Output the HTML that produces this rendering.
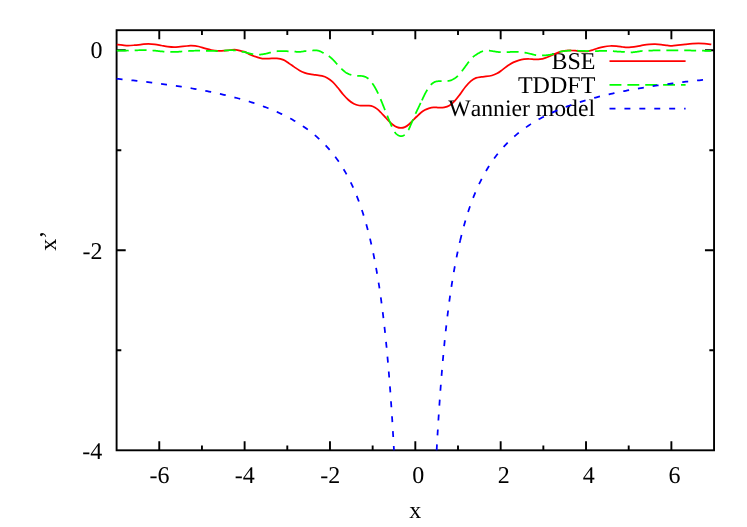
<!DOCTYPE html>
<html><head><meta charset="utf-8">
<style>
html,body{margin:0;padding:0;background:#fff;}
body{width:747px;height:527px;overflow:hidden;}
svg{display:block;will-change:transform;}
text{font-family:"Liberation Serif",serif;font-size:24px;fill:#000;text-rendering:geometricPrecision;}
</style></head><body>
<svg width="747" height="527" viewBox="0 0 747 527">
<rect width="747" height="527" fill="#fff"/>
<!-- frame + ticks -->
<g fill="none" stroke="#000" stroke-width="1.9">
<rect x="116.6" y="30.2" width="597.45" height="420.10"/>
<path d="M159.27 450.30 v-9.1 M159.27 30.20 v9.1"/>
<path d="M201.95 450.30 v-4.7 M201.95 30.20 v4.7"/>
<path d="M244.62 450.30 v-9.1 M244.62 30.20 v9.1"/>
<path d="M287.30 450.30 v-4.7 M287.30 30.20 v4.7"/>
<path d="M329.98 450.30 v-9.1 M329.98 30.20 v9.1"/>
<path d="M372.65 450.30 v-4.7 M372.65 30.20 v4.7"/>
<path d="M415.32 450.30 v-9.1 M415.32 30.20 v9.1"/>
<path d="M458.00 450.30 v-4.7 M458.00 30.20 v4.7"/>
<path d="M500.67 450.30 v-9.1 M500.67 30.20 v9.1"/>
<path d="M543.35 450.30 v-4.7 M543.35 30.20 v4.7"/>
<path d="M586.02 450.30 v-9.1 M586.02 30.20 v9.1"/>
<path d="M628.70 450.30 v-4.7 M628.70 30.20 v4.7"/>
<path d="M671.38 450.30 v-9.1 M671.38 30.20 v9.1"/>
<path d="M116.60 50.20 h9.1 M714.05 50.20 h-9.1"/>
<path d="M116.60 150.23 h4.7 M714.05 150.23 h-4.7"/>
<path d="M116.60 250.25 h9.1 M714.05 250.25 h-9.1"/>
<path d="M116.60 350.28 h4.7 M714.05 350.28 h-4.7"/>
</g>
<!-- y tick labels -->
<g text-anchor="end">
<text x="102.5" y="58.2">0</text>
<text x="102.6" y="259.0">-2</text>
<text x="102.3" y="458.6">-4</text>
</g>
<!-- x tick labels -->
<g text-anchor="middle">
<text x="159.4" y="482.5">-6</text>
<text x="244.8" y="482.5">-4</text>
<text x="330.3" y="482.5">-2</text>
<text x="418.3" y="482.5">0</text>
<text x="503.7" y="482.5">2</text>
<text x="588.8" y="482.5">4</text>
<text x="674.4" y="482.5">6</text>
<text x="415.3" y="517.6">x</text>
</g>
<text transform="translate(56 250.7) rotate(-90)" x="0" y="0">x&#8217;</text>
<!-- BSE -->
<text x="595.5" y="68.9" text-anchor="end">BSE</text>
<g fill="none" stroke="#ff0000" stroke-width="1.75" stroke-linejoin="round">
<path d="M609.5 61.0 H685.6"/>
<path d="M116.80 44.60 C117.78 44.70 120.82 45.03 122.70 45.20 C124.58 45.37 126.13 45.60 128.10 45.60 C130.07 45.60 132.18 45.40 134.50 45.20 C136.82 45.00 139.68 44.62 142.00 44.40 C144.32 44.18 146.27 43.90 148.40 43.90 C150.53 43.90 152.65 44.13 154.80 44.40 C156.95 44.67 159.15 45.13 161.30 45.50 C163.45 45.87 165.57 46.33 167.70 46.60 C169.83 46.87 171.97 47.10 174.10 47.10 C176.23 47.10 178.35 46.78 180.50 46.60 C182.65 46.42 185.23 46.15 187.00 46.00 C188.77 45.85 189.17 45.62 191.10 45.70 C193.03 45.78 196.28 46.05 198.60 46.50 C200.92 46.95 202.87 47.82 205.00 48.40 C207.13 48.98 209.27 49.59 211.40 50.00 C213.53 50.41 215.65 50.73 217.80 50.85 C219.95 50.97 222.15 50.84 224.30 50.70 C226.45 50.56 228.75 50.15 230.70 50.00 C232.65 49.85 234.22 49.62 236.00 49.80 C237.78 49.98 239.90 50.75 241.40 51.10 C242.90 51.45 243.52 51.32 245.00 51.90 C246.48 52.48 248.30 53.72 250.30 54.60 C252.30 55.48 255.00 56.53 257.00 57.20 C259.00 57.87 260.32 58.37 262.30 58.60 C264.28 58.83 266.47 58.65 268.90 58.60 C271.33 58.55 274.47 58.08 276.90 58.30 C279.33 58.52 281.52 59.08 283.50 59.90 C285.48 60.72 287.03 62.03 288.80 63.20 C290.57 64.37 292.32 65.68 294.10 66.90 C295.88 68.12 297.72 69.52 299.50 70.50 C301.28 71.48 303.03 72.18 304.80 72.80 C306.57 73.42 308.35 73.85 310.10 74.20 C311.85 74.55 313.32 74.62 315.30 74.90 C317.28 75.18 320.00 75.40 322.00 75.90 C324.00 76.40 325.53 76.92 327.30 77.90 C329.07 78.88 330.83 80.15 332.60 81.80 C334.37 83.45 336.13 85.68 337.90 87.80 C339.67 89.92 341.43 92.47 343.20 94.50 C344.97 96.53 346.73 98.45 348.50 100.00 C350.27 101.55 352.03 102.88 353.80 103.80 C355.57 104.72 357.32 105.18 359.10 105.50 C360.88 105.82 362.85 105.68 364.50 105.70 C366.15 105.72 367.58 105.47 369.00 105.60 C370.42 105.73 371.67 105.95 373.00 106.50 C374.33 107.05 375.68 107.90 377.00 108.90 C378.32 109.90 379.58 111.18 380.90 112.50 C382.22 113.82 383.57 115.37 384.90 116.80 C386.23 118.23 387.57 119.78 388.90 121.10 C390.23 122.42 391.57 123.70 392.90 124.70 C394.23 125.70 395.57 126.57 396.90 127.10 C398.23 127.63 399.58 127.90 400.90 127.90 C402.22 127.90 403.48 127.67 404.80 127.10 C406.12 126.53 407.47 125.60 408.80 124.50 C410.13 123.40 411.47 121.83 412.80 120.50 C414.13 119.17 415.47 117.78 416.80 116.50 C418.13 115.22 419.47 113.87 420.80 112.80 C422.13 111.73 423.47 110.85 424.80 110.10 C426.13 109.35 427.33 108.77 428.80 108.30 C430.27 107.83 431.92 107.40 433.60 107.30 C435.28 107.20 437.13 107.68 438.90 107.70 C440.67 107.72 442.43 107.78 444.20 107.40 C445.97 107.02 447.73 106.50 449.50 105.40 C451.27 104.30 453.02 102.68 454.80 100.80 C456.58 98.92 458.42 96.43 460.20 94.10 C461.98 91.77 463.73 88.97 465.50 86.80 C467.27 84.63 469.03 82.58 470.80 81.10 C472.57 79.62 474.33 78.60 476.10 77.90 C477.87 77.20 480.02 77.12 481.40 76.90 C482.78 76.68 482.65 76.83 484.40 76.60 C486.15 76.37 489.75 76.05 491.90 75.50 C494.05 74.95 495.52 74.28 497.30 73.30 C499.08 72.32 500.82 70.88 502.60 69.60 C504.38 68.32 506.22 66.80 508.00 65.60 C509.78 64.40 511.52 63.28 513.30 62.40 C515.08 61.52 516.90 60.83 518.70 60.30 C520.50 59.77 522.32 59.42 524.10 59.20 C525.88 58.98 527.62 58.97 529.40 59.00 C531.18 59.03 533.02 59.37 534.80 59.40 C536.58 59.43 538.32 59.47 540.10 59.20 C541.88 58.93 543.72 58.38 545.50 57.80 C547.28 57.22 549.15 56.38 550.80 55.70 C552.45 55.02 553.75 54.38 555.40 53.70 C557.05 53.02 558.92 52.10 560.70 51.60 C562.48 51.10 564.32 50.88 566.10 50.70 C567.88 50.52 569.62 50.48 571.40 50.50 C573.18 50.52 575.02 50.72 576.80 50.85 C578.58 50.98 580.32 51.22 582.10 51.30 C583.88 51.38 585.72 51.52 587.50 51.30 C589.28 51.08 591.02 50.53 592.80 50.00 C594.58 49.47 596.42 48.63 598.20 48.10 C599.98 47.57 601.53 47.15 603.50 46.80 C605.47 46.45 607.85 46.10 610.00 46.00 C612.15 45.90 614.27 46.03 616.40 46.20 C618.53 46.37 621.03 46.80 622.80 47.00 C624.57 47.20 625.63 47.37 627.00 47.40 C628.37 47.43 629.33 47.37 631.00 47.20 C632.67 47.03 634.98 46.73 637.00 46.40 C639.02 46.07 641.08 45.53 643.10 45.20 C645.12 44.87 647.10 44.57 649.10 44.40 C651.10 44.23 653.10 44.17 655.10 44.20 C657.10 44.23 659.08 44.40 661.10 44.60 C663.12 44.80 665.38 45.20 667.20 45.40 C669.02 45.60 670.20 45.83 672.00 45.80 C673.80 45.77 675.80 45.43 678.00 45.20 C680.20 44.97 682.78 44.65 685.20 44.40 C687.62 44.15 690.28 43.87 692.50 43.70 C694.72 43.53 696.50 43.40 698.50 43.40 C700.50 43.40 702.37 43.53 704.50 43.70 C706.63 43.87 710.17 44.28 711.30 44.40"/>
</g>
<!-- TDDFT -->
<text x="595.3" y="92.9" text-anchor="end">TDDFT</text>
<g fill="none" stroke="#00ff00" stroke-width="1.75" stroke-dasharray="11.912 5.956" stroke-linejoin="round">
<path d="M609.5 84.8 H685.6"/>
<path d="M116.80 50.50 L117.39 50.50 L118.15 50.50 L119.06 50.50 L120.08 50.50 L121.18 50.51 L122.33 50.51 L123.50 50.51 L124.67 50.51 L125.79 50.51 L126.84 50.51 L127.79 50.50 L128.60 50.50 L129.29 50.50 L129.88 50.49 L130.40 50.49 L130.87 50.48 L131.29 50.48 L131.69 50.47 L132.08 50.46 L132.48 50.45 L132.90 50.44 L133.37 50.43 L133.90 50.42 L134.50 50.40 L135.17 50.38 L135.90 50.35 L136.67 50.32 L137.47 50.29 L138.30 50.25 L139.14 50.22 L140.00 50.19 L140.85 50.16 L141.70 50.13 L142.53 50.11 L143.33 50.10 L144.10 50.10 L144.83 50.11 L145.53 50.12 L146.21 50.13 L146.88 50.16 L147.53 50.18 L148.19 50.21 L148.85 50.25 L149.52 50.29 L150.22 50.33 L150.94 50.38 L151.70 50.44 L152.50 50.50 L153.36 50.57 L154.28 50.65 L155.25 50.74 L156.26 50.84 L157.29 50.95 L158.32 51.06 L159.35 51.16 L160.35 51.27 L161.32 51.36 L162.25 51.45 L163.11 51.53 L163.90 51.60 L164.62 51.65 L165.27 51.70 L165.88 51.74 L166.45 51.77 L166.99 51.80 L167.49 51.82 L167.98 51.84 L168.46 51.85 L168.93 51.86 L169.41 51.88 L169.89 51.89 L170.40 51.90 L170.91 51.91 L171.43 51.92 L171.93 51.93 L172.43 51.94 L172.93 51.94 L173.42 51.94 L173.91 51.94 L174.40 51.94 L174.88 51.94 L175.36 51.93 L175.83 51.91 L176.30 51.90 L176.76 51.88 L177.20 51.86 L177.63 51.83 L178.06 51.80 L178.47 51.77 L178.89 51.73 L179.32 51.69 L179.74 51.66 L180.18 51.62 L180.64 51.58 L181.11 51.54 L181.60 51.50 L182.10 51.46 L182.59 51.42 L183.08 51.38 L183.57 51.34 L184.07 51.29 L184.59 51.25 L185.14 51.21 L185.71 51.16 L186.31 51.12 L186.96 51.08 L187.65 51.04 L188.40 51.00 L189.23 50.96 L190.15 50.92 L191.14 50.88 L192.18 50.84 L193.26 50.79 L194.36 50.75 L195.45 50.72 L196.52 50.68 L197.55 50.65 L198.52 50.63 L199.41 50.61 L200.20 50.60 L200.88 50.60 L201.46 50.61 L201.95 50.62 L202.39 50.64 L202.78 50.66 L203.16 50.69 L203.53 50.72 L203.92 50.75 L204.36 50.78 L204.85 50.81 L205.42 50.83 L206.10 50.85 L206.89 50.87 L207.78 50.89 L208.75 50.91 L209.79 50.93 L210.86 50.95 L211.95 50.97 L213.04 50.98 L214.11 50.99 L215.15 51.00 L216.12 51.01 L217.01 51.01 L217.80 51.00 L218.49 50.99 L219.11 50.97 L219.66 50.94 L220.16 50.91 L220.61 50.87 L221.04 50.83 L221.46 50.79 L221.87 50.75 L222.28 50.71 L222.72 50.67 L223.19 50.64 L223.70 50.60 L224.25 50.56 L224.83 50.53 L225.42 50.48 L226.03 50.44 L226.65 50.40 L227.27 50.36 L227.88 50.32 L228.49 50.28 L229.08 50.25 L229.65 50.23 L230.19 50.21 L230.70 50.20 L231.17 50.20 L231.61 50.20 L232.03 50.21 L232.42 50.22 L232.80 50.23 L233.17 50.26 L233.53 50.28 L233.90 50.31 L234.27 50.35 L234.66 50.40 L235.07 50.44 L235.50 50.50 L235.96 50.57 L236.45 50.64 L236.95 50.73 L237.47 50.83 L238.00 50.93 L238.53 51.03 L239.05 51.14 L239.56 51.24 L240.06 51.34 L240.54 51.44 L240.99 51.52 L241.40 51.60 L241.77 51.66 L242.10 51.72 L242.39 51.76 L242.66 51.80 L242.91 51.83 L243.16 51.86 L243.40 51.90 L243.66 51.94 L243.94 51.98 L244.25 52.04 L244.60 52.11 L245.00 52.20 L245.44 52.31 L245.92 52.43 L246.42 52.57 L246.95 52.72 L247.50 52.88 L248.07 53.04 L248.65 53.21 L249.24 53.37 L249.83 53.52 L250.42 53.66 L251.02 53.79 L251.60 53.90 L252.19 54.00 L252.79 54.09 L253.41 54.18 L254.03 54.26 L254.66 54.33 L255.29 54.40 L255.92 54.46 L256.54 54.51 L257.15 54.55 L257.75 54.58 L258.33 54.59 L258.90 54.60 L259.45 54.59 L259.98 54.57 L260.51 54.54 L261.02 54.49 L261.53 54.44 L262.02 54.38 L262.52 54.31 L263.00 54.23 L263.48 54.15 L263.96 54.07 L264.43 53.98 L264.90 53.90 L265.36 53.81 L265.81 53.72 L266.24 53.62 L266.67 53.51 L267.09 53.40 L267.51 53.29 L267.93 53.17 L268.36 53.06 L268.79 52.94 L269.24 52.82 L269.71 52.71 L270.20 52.60 L270.71 52.49 L271.25 52.37 L271.81 52.25 L272.38 52.13 L272.96 52.01 L273.55 51.89 L274.14 51.77 L274.72 51.66 L275.29 51.55 L275.85 51.46 L276.39 51.37 L276.90 51.30 L277.39 51.24 L277.86 51.19 L278.31 51.14 L278.74 51.10 L279.17 51.07 L279.59 51.05 L280.01 51.03 L280.43 51.02 L280.86 51.01 L281.29 51.00 L281.74 51.00 L282.20 51.00 L282.68 51.00 L283.16 51.02 L283.65 51.03 L284.15 51.06 L284.66 51.08 L285.16 51.11 L285.67 51.14 L286.18 51.18 L286.69 51.21 L287.20 51.24 L287.70 51.27 L288.20 51.30 L288.70 51.32 L289.19 51.35 L289.69 51.37 L290.19 51.40 L290.69 51.42 L291.19 51.45 L291.68 51.48 L292.17 51.50 L292.66 51.53 L293.15 51.55 L293.63 51.58 L294.10 51.60 L294.56 51.63 L295.02 51.66 L295.46 51.70 L295.89 51.74 L296.32 51.79 L296.76 51.83 L297.19 51.86 L297.63 51.89 L298.08 51.91 L298.54 51.92 L299.01 51.92 L299.50 51.90 L300.01 51.87 L300.53 51.81 L301.07 51.75 L301.61 51.67 L302.16 51.59 L302.72 51.50 L303.29 51.41 L303.86 51.31 L304.42 51.23 L304.99 51.14 L305.55 51.06 L306.10 51.00 L306.65 50.94 L307.22 50.89 L307.78 50.83 L308.35 50.78 L308.92 50.73 L309.48 50.69 L310.04 50.65 L310.60 50.61 L311.14 50.57 L311.68 50.54 L312.20 50.52 L312.70 50.50 L313.19 50.48 L313.66 50.46 L314.12 50.43 L314.56 50.41 L315.00 50.39 L315.43 50.38 L315.86 50.37 L316.28 50.38 L316.71 50.41 L317.13 50.45 L317.56 50.51 L318.00 50.60 L318.44 50.71 L318.88 50.85 L319.32 51.00 L319.77 51.18 L320.21 51.37 L320.65 51.57 L321.09 51.78 L321.53 52.00 L321.98 52.22 L322.42 52.45 L322.86 52.68 L323.30 52.90 L323.74 53.12 L324.19 53.35 L324.64 53.58 L325.09 53.81 L325.54 54.05 L325.99 54.29 L326.44 54.54 L326.89 54.80 L327.32 55.06 L327.76 55.33 L328.18 55.61 L328.60 55.90 L329.01 56.20 L329.41 56.50 L329.81 56.82 L330.21 57.14 L330.60 57.48 L330.98 57.81 L331.36 58.15 L331.74 58.50 L332.11 58.85 L332.48 59.20 L332.84 59.55 L333.20 59.90 L333.55 60.25 L333.89 60.60 L334.23 60.96 L334.55 61.32 L334.87 61.68 L335.19 62.04 L335.51 62.41 L335.84 62.78 L336.16 63.16 L336.50 63.53 L336.84 63.91 L337.20 64.30 L337.57 64.69 L337.94 65.10 L338.33 65.52 L338.72 65.94 L339.11 66.37 L339.51 66.79 L339.91 67.22 L340.31 67.64 L340.72 68.05 L341.11 68.45 L341.51 68.83 L341.90 69.20 L342.29 69.56 L342.67 69.91 L343.05 70.25 L343.44 70.59 L343.82 70.91 L344.20 71.23 L344.58 71.54 L344.96 71.84 L345.35 72.12 L345.73 72.40 L346.11 72.66 L346.50 72.90 L346.88 73.13 L347.26 73.34 L347.64 73.54 L348.01 73.73 L348.39 73.90 L348.76 74.07 L349.14 74.22 L349.53 74.37 L349.93 74.51 L350.34 74.64 L350.76 74.77 L351.20 74.90 L351.65 75.02 L352.13 75.13 L352.61 75.24 L353.11 75.33 L353.61 75.42 L354.12 75.51 L354.64 75.58 L355.16 75.66 L355.68 75.72 L356.19 75.79 L356.70 75.84 L357.20 75.90 L357.70 75.94 L358.20 75.97 L358.70 75.98 L359.21 75.98 L359.71 75.97 L360.21 75.97 L360.71 75.97 L361.20 75.98 L361.69 76.00 L362.17 76.04 L362.64 76.11 L363.10 76.20 L363.55 76.31 L363.99 76.44 L364.43 76.58 L364.86 76.73 L365.29 76.89 L365.71 77.07 L366.12 77.26 L366.53 77.47 L366.93 77.70 L367.32 77.95 L367.71 78.21 L368.10 78.50 L368.48 78.81 L368.86 79.15 L369.23 79.51 L369.59 79.90 L369.95 80.30 L370.31 80.71 L370.65 81.14 L371.00 81.57 L371.33 82.01 L371.66 82.44 L371.98 82.87 L372.30 83.30 L372.61 83.72 L372.91 84.15 L373.20 84.59 L373.49 85.03 L373.77 85.47 L374.04 85.92 L374.31 86.37 L374.58 86.81 L374.84 87.26 L375.10 87.71 L375.35 88.16 L375.60 88.60 L375.85 89.04 L376.09 89.48 L376.32 89.91 L376.55 90.34 L376.77 90.77 L376.99 91.21 L377.21 91.64 L377.43 92.08 L377.65 92.53 L377.86 92.98 L378.08 93.43 L378.30 93.90 L378.52 94.36 L378.72 94.81 L378.92 95.26 L379.12 95.70 L379.32 96.15 L379.52 96.61 L379.72 97.09 L379.93 97.59 L380.15 98.11 L380.39 98.67 L380.63 99.26 L380.90 99.90 L381.19 100.60 L381.50 101.36 L381.83 102.18 L382.18 103.03 L382.53 103.91 L382.89 104.81 L383.25 105.70 L383.61 106.59 L383.96 107.46 L384.29 108.29 L384.61 109.07 L384.90 109.80 L385.17 110.47 L385.42 111.09 L385.65 111.67 L385.87 112.22 L386.09 112.75 L386.29 113.27 L386.50 113.78 L386.70 114.29 L386.91 114.81 L387.13 115.35 L387.36 115.91 L387.60 116.50 L387.86 117.13 L388.12 117.78 L388.40 118.46 L388.68 119.15 L388.96 119.85 L389.25 120.55 L389.54 121.25 L389.82 121.94 L390.10 122.62 L390.38 123.27 L390.64 123.90 L390.90 124.50 L391.14 125.07 L391.38 125.63 L391.60 126.17 L391.82 126.69 L392.04 127.20 L392.25 127.70 L392.46 128.18 L392.68 128.65 L392.90 129.11 L393.12 129.55 L393.36 129.98 L393.60 130.40 L393.85 130.81 L394.11 131.20 L394.37 131.59 L394.64 131.96 L394.91 132.32 L395.19 132.66 L395.47 132.99 L395.75 133.31 L396.03 133.61 L396.32 133.89 L396.61 134.15 L396.90 134.40 L397.19 134.63 L397.49 134.85 L397.80 135.05 L398.11 135.24 L398.42 135.41 L398.73 135.56 L399.05 135.70 L399.36 135.82 L399.67 135.92 L399.98 136.00 L400.29 136.06 L400.60 136.10 L400.90 136.12 L401.20 136.13 L401.50 136.13 L401.79 136.10 L402.09 136.06 L402.38 136.00 L402.68 135.92 L402.97 135.81 L403.27 135.67 L403.58 135.51 L403.89 135.32 L404.20 135.10 L404.52 134.85 L404.85 134.56 L405.19 134.25 L405.53 133.90 L405.87 133.54 L406.22 133.14 L406.56 132.73 L406.90 132.30 L407.24 131.84 L407.57 131.38 L407.89 130.89 L408.20 130.40 L408.50 129.89 L408.78 129.36 L409.06 128.80 L409.33 128.23 L409.59 127.64 L409.85 127.04 L410.11 126.42 L410.37 125.78 L410.64 125.13 L410.92 124.46 L411.20 123.79 L411.50 123.10 L411.81 122.39 L412.13 121.64 L412.47 120.86 L412.81 120.06 L413.15 119.25 L413.50 118.42 L413.85 117.61 L414.19 116.80 L414.53 116.00 L414.87 115.23 L415.19 114.50 L415.50 113.80 L415.80 113.14 L416.09 112.51 L416.37 111.91 L416.65 111.33 L416.92 110.76 L417.19 110.21 L417.46 109.66 L417.73 109.12 L417.99 108.58 L418.26 108.03 L418.53 107.47 L418.80 106.90 L419.07 106.32 L419.34 105.75 L419.61 105.18 L419.87 104.61 L420.14 104.05 L420.41 103.47 L420.68 102.90 L420.95 102.32 L421.23 101.73 L421.51 101.13 L421.80 100.52 L421.90 100.32"/>
<path d="M421.90 100.32 L422.10 99.90 L422.41 99.26 L422.72 98.60 L423.04 97.92 L423.37 97.23 L423.70 96.53 L424.03 95.83 L424.37 95.12 L424.71 94.43 L425.06 93.75 L425.40 93.08 L425.75 92.43 L426.10 91.80 L426.45 91.19 L426.81 90.58 L427.17 89.97 L427.54 89.37 L427.90 88.78 L428.27 88.20 L428.65 87.64 L429.02 87.10 L429.39 86.58 L429.76 86.09 L430.13 85.63 L430.50 85.20 L430.86 84.80 L431.22 84.43 L431.58 84.08 L431.93 83.76 L432.29 83.46 L432.64 83.19 L433.00 82.93 L433.37 82.69 L433.74 82.47 L434.11 82.27 L434.50 82.08 L434.90 81.90 L435.31 81.74 L435.72 81.61 L436.13 81.51 L436.55 81.42 L436.97 81.35 L437.41 81.29 L437.85 81.25 L438.30 81.21 L438.76 81.19 L439.23 81.16 L439.71 81.13 L440.20 81.10 L440.71 81.08 L441.25 81.07 L441.81 81.07 L442.38 81.09 L442.96 81.11 L443.55 81.13 L444.14 81.15 L444.72 81.17 L445.29 81.17 L445.85 81.17 L446.39 81.14 L446.90 81.10 L447.39 81.04 L447.86 80.99 L448.32 80.92 L448.77 80.85 L449.21 80.77 L449.64 80.67 L450.06 80.57 L450.49 80.45 L450.91 80.32 L451.33 80.16 L451.76 79.99 L452.20 79.80 L452.65 79.58 L453.10 79.34 L453.56 79.09 L454.01 78.81 L454.47 78.51 L454.93 78.21 L455.38 77.89 L455.83 77.56 L456.27 77.22 L456.69 76.88 L457.10 76.54 L457.50 76.20 L457.88 75.85 L458.24 75.50 L458.59 75.14 L458.93 74.77 L459.26 74.39 L459.58 74.01 L459.90 73.62 L460.21 73.22 L460.53 72.82 L460.85 72.42 L461.17 72.01 L461.50 71.60 L461.83 71.18 L462.17 70.76 L462.50 70.33 L462.83 69.89 L463.17 69.45 L463.50 69.00 L463.83 68.55 L464.17 68.10 L464.50 67.65 L464.83 67.20 L465.17 66.75 L465.50 66.30 L465.83 65.85 L466.17 65.39 L466.50 64.93 L466.84 64.46 L467.17 64.00 L467.51 63.53 L467.84 63.07 L468.17 62.61 L468.51 62.17 L468.84 61.73 L469.17 61.31 L469.50 60.90 L469.83 60.50 L470.15 60.12 L470.48 59.74 L470.80 59.36 L471.12 59.00 L471.44 58.64 L471.76 58.30 L472.08 57.96 L472.41 57.63 L472.73 57.31 L473.06 57.00 L473.40 56.70 L473.74 56.41 L474.08 56.14 L474.42 55.87 L474.76 55.62 L475.10 55.37 L475.45 55.14 L475.80 54.91 L476.15 54.68 L476.51 54.46 L476.87 54.24 L477.23 54.02 L477.60 53.80 L477.97 53.58 L478.34 53.35 L478.71 53.13 L479.09 52.90 L479.46 52.68 L479.84 52.47 L480.23 52.26 L480.63 52.06 L481.03 51.88 L481.44 51.70 L481.86 51.54 L482.30 51.40 L482.75 51.27 L483.21 51.16 L483.69 51.05 L484.18 50.96 L484.67 50.87 L485.17 50.80 L485.68 50.74 L486.19 50.69 L486.70 50.65 L487.20 50.62 L487.70 50.61 L488.20 50.60 L488.69 50.61 L489.18 50.64 L489.67 50.69 L490.17 50.75 L490.66 50.82 L491.15 50.90 L491.64 50.99 L492.13 51.07 L492.62 51.16 L493.12 51.25 L493.61 51.33 L494.10 51.40 L494.59 51.47 L495.08 51.54 L495.57 51.62 L496.06 51.70 L496.55 51.77 L497.04 51.85 L497.53 51.92 L498.02 51.99 L498.51 52.06 L499.01 52.11 L499.50 52.16 L500.00 52.20 L500.50 52.23 L501.00 52.25 L501.51 52.26 L502.01 52.27 L502.52 52.27 L503.03 52.27 L503.54 52.26 L504.05 52.25 L504.56 52.24 L505.08 52.23 L505.59 52.21 L506.10 52.20 L506.62 52.18 L507.14 52.16 L507.66 52.14 L508.19 52.11 L508.72 52.08 L509.25 52.05 L509.78 52.02 L510.30 51.99 L510.81 51.96 L511.32 51.94 L511.81 51.92 L512.30 51.90 L512.77 51.89 L513.22 51.88 L513.66 51.86 L514.09 51.86 L514.51 51.85 L514.93 51.84 L515.35 51.84 L515.78 51.84 L516.21 51.85 L516.66 51.86 L517.12 51.88 L517.60 51.90 L518.10 51.93 L518.62 51.96 L519.14 51.99 L519.68 52.03 L520.23 52.07 L520.78 52.12 L521.34 52.17 L521.90 52.22 L522.45 52.28 L523.01 52.35 L523.56 52.42 L524.10 52.50 L524.64 52.59 L525.19 52.68 L525.73 52.79 L526.28 52.90 L526.83 53.01 L527.38 53.13 L527.92 53.26 L528.45 53.38 L528.98 53.50 L529.50 53.62 L530.01 53.74 L530.50 53.85 L530.98 53.96 L531.45 54.07 L531.90 54.19 L532.34 54.31 L532.78 54.42 L533.21 54.53 L533.64 54.64 L534.07 54.75 L534.49 54.85 L534.92 54.94 L535.36 55.03 L535.80 55.10 L536.24 55.17 L536.68 55.23 L537.12 55.28 L537.56 55.33 L537.99 55.37 L538.43 55.40 L538.87 55.43 L539.32 55.46 L539.78 55.48 L540.24 55.49 L540.71 55.50 L541.20 55.50 L541.70 55.50 L542.22 55.49 L542.75 55.47 L543.30 55.45 L543.85 55.42 L544.40 55.39 L544.95 55.35 L545.50 55.31 L546.05 55.26 L546.58 55.21 L547.10 55.16 L547.60 55.10 L548.08 55.04 L548.55 54.98 L549.00 54.92 L549.45 54.86 L549.89 54.79 L550.32 54.71 L550.75 54.63 L551.19 54.54 L551.62 54.45 L552.07 54.34 L552.53 54.23 L553.00 54.10 L553.48 53.95 L553.98 53.79 L554.48 53.60 L554.99 53.41 L555.50 53.20 L556.02 52.99 L556.54 52.79 L557.06 52.58 L557.57 52.39 L558.09 52.21 L558.60 52.04 L559.10 51.90 L559.60 51.78 L560.09 51.67 L560.59 51.57 L561.08 51.49 L561.57 51.41 L562.06 51.34 L562.55 51.28 L563.04 51.22 L563.53 51.17 L564.02 51.11 L564.51 51.06 L565.00 51.00 L565.49 50.94 L565.98 50.89 L566.48 50.83 L566.97 50.78 L567.46 50.73 L567.95 50.68 L568.44 50.64 L568.93 50.60 L569.42 50.57 L569.92 50.54 L570.41 50.52 L570.90 50.50 L571.37 50.49 L571.82 50.49 L572.24 50.50 L572.65 50.51 L573.06 50.52 L573.48 50.54 L573.92 50.57 L574.40 50.59 L574.91 50.62 L575.48 50.65 L576.10 50.67 L576.80 50.70 L577.60 50.73 L578.49 50.76 L579.48 50.80 L580.52 50.83 L581.60 50.87 L582.71 50.91 L583.81 50.95 L584.89 50.99 L585.93 51.02 L586.91 51.05 L587.81 51.08 L588.60 51.10 L589.27 51.11 L589.84 51.13 L590.33 51.13 L590.76 51.14 L591.14 51.14 L591.50 51.14 L591.86 51.14 L592.24 51.13 L592.67 51.13 L593.16 51.12 L593.73 51.11 L594.40 51.10 L595.19 51.09 L596.09 51.07 L597.07 51.04 L598.11 51.02 L599.19 50.99 L600.29 50.96 L601.40 50.93 L602.48 50.91 L603.52 50.88 L604.51 50.87 L605.40 50.85 L606.20 50.85 L606.90 50.85 L607.52 50.86 L608.09 50.87 L608.60 50.89 L609.08 50.91 L609.52 50.93 L609.94 50.95 L610.35 50.98 L610.76 51.01 L611.18 51.04 L611.63 51.07 L612.10 51.10 L612.59 51.13 L613.08 51.17 L613.58 51.21 L614.07 51.26 L614.56 51.30 L615.05 51.35 L615.54 51.39 L616.03 51.44 L616.52 51.48 L617.02 51.53 L617.51 51.56 L618.00 51.60 L618.49 51.63 L618.98 51.66 L619.48 51.68 L619.97 51.70 L620.46 51.72 L620.95 51.74 L621.44 51.76 L621.93 51.79 L622.42 51.81 L622.92 51.83 L623.41 51.87 L623.90 51.90 L624.39 51.94 L624.88 52.00 L625.37 52.06 L625.86 52.12 L626.35 52.19 L626.84 52.26 L627.33 52.32 L627.83 52.38 L628.32 52.43 L628.81 52.47 L629.30 52.49 L629.80 52.50 L630.30 52.49 L630.79 52.47 L631.29 52.44 L631.79 52.40 L632.29 52.35 L632.79 52.29 L633.29 52.23 L633.79 52.17 L634.29 52.10 L634.79 52.03 L635.30 51.96 L635.80 51.90 L636.31 51.83 L636.81 51.76 L637.32 51.68 L637.83 51.60 L638.34 51.52 L638.85 51.43 L639.36 51.35 L639.87 51.27 L640.38 51.19 L640.89 51.12 L641.39 51.05 L641.90 51.00 L642.38 50.95 L642.84 50.92 L643.27 50.89 L643.69 50.86 L644.10 50.84 L644.53 50.82 L644.98 50.80 L645.46 50.79 L645.98 50.77 L646.55 50.75 L647.19 50.73 L647.90 50.70 L648.67 50.67 L649.48 50.63 L650.34 50.60 L651.23 50.56 L652.17 50.52 L653.14 50.48 L654.16 50.44 L655.23 50.41 L656.33 50.37 L657.48 50.34 L658.67 50.32 L659.90 50.30 L661.19 50.29 L662.56 50.27 L664.00 50.26 L665.48 50.26 L667.01 50.26 L668.57 50.26 L670.15 50.26 L671.74 50.26 L673.33 50.27 L674.91 50.28 L676.47 50.29 L678.00 50.30 L679.52 50.31 L681.05 50.33 L682.59 50.35 L684.14 50.38 L685.69 50.40 L687.23 50.43 L688.76 50.46 L690.28 50.49 L691.78 50.52 L693.25 50.55 L694.69 50.57 L696.10 50.60 L697.52 50.63 L698.98 50.65 L700.46 50.68 L701.94 50.71 L703.41 50.74 L704.83 50.77 L706.19 50.80 L707.47 50.82 L708.64 50.85 L709.68 50.87 L710.57 50.89 L711.30 50.90"/>
</g>
<!-- Wannier model -->
<text x="595" y="116.4" text-anchor="end" style="font-kerning:none;font-size:23.7px">Wannier model</text>
<g fill="none" stroke="#0000ff" stroke-width="1.75" stroke-dasharray="5.970 8.955" stroke-linejoin="round">
<path d="M609.5 108.5 H685.6"/>
<path d="M116.60 78.78 L118.45 78.96 L120.30 79.14 L122.15 79.32 L124.00 79.50 L125.85 79.69 L127.70 79.88 L129.54 80.07 L131.39 80.27 L133.24 80.46 L135.09 80.66 L136.94 80.87 L138.79 81.07 L140.64 81.28 L142.49 81.49 L144.34 81.70 L146.19 81.92 L148.04 82.14 L149.89 82.36 L151.74 82.59 L153.59 82.82 L155.43 83.05 L157.28 83.28 L159.13 83.52 L160.98 83.77 L162.83 84.01 L164.68 84.26 L166.53 84.51 L168.38 84.77 L170.23 85.03 L172.08 85.30 L173.93 85.57 L175.78 85.84 L177.63 86.12 L179.47 86.40 L181.32 86.68 L183.17 86.97 L185.02 87.27 L186.87 87.57 L188.72 87.87 L190.57 88.18 L192.42 88.50 L194.27 88.82 L196.12 89.15 L197.97 89.48 L199.82 89.81 L201.67 90.16 L203.51 90.51 L205.36 90.86 L207.21 91.22 L209.06 91.59 L210.91 91.96 L212.76 92.35 L214.61 92.73 L216.46 93.13 L218.31 93.53 L220.16 93.94 L222.01 94.36 L223.86 94.79 L225.71 95.22 L227.55 95.67 L229.40 96.12 L231.25 96.58 L233.10 97.05 L234.95 97.53 L236.80 98.02 L238.65 98.52 L240.50 99.03 L242.35 99.55 L244.20 100.09 L246.05 100.63 L247.90 101.19 L249.75 101.76 L251.60 102.34 L253.44 102.94 L255.29 103.55 L257.14 104.17 L258.99 104.81 L260.84 105.46 L262.69 106.13 L264.54 106.82 L266.39 107.52 L268.24 108.24 L270.09 108.98 L271.94 109.74 L273.79 110.52 L275.64 111.32 L277.48 112.13 L279.33 112.98 L281.18 113.84 L283.03 114.73 L284.88 115.65 L286.73 116.59 L288.58 117.56 L290.43 118.55 L292.28 119.58 L294.13 120.64 L295.98 121.73 L297.83 122.86 L299.68 124.02 L301.52 125.22 L303.37 126.46 L305.22 127.74 L307.07 129.06 L308.92 130.43 L310.77 131.85 L312.62 133.32 L314.47 134.85 L316.32 136.43 L318.17 138.07 L320.02 139.77 L321.87 141.55 L323.72 143.39 L325.57 145.31 L327.41 147.31 L329.26 149.40 L331.11 151.58 L332.96 153.85 L334.81 156.23 L336.66 158.73 L338.51 161.34 L340.36 164.08 L342.21 166.96 L344.06 169.99 L345.91 173.18 L347.76 176.55 L349.61 180.10 L351.45 183.86 L353.30 187.85 L355.15 192.08 L357.00 196.58 L358.85 201.37 L360.70 206.49 L362.55 211.97 L364.40 217.84 L366.25 224.16 L368.10 230.97 L369.95 238.33 L371.80 246.33 L373.65 255.03 L375.50 264.54 L377.34 274.98 L379.19 286.48 L381.04 299.22 L382.89 313.42 L384.74 329.34 L386.59 347.30 L388.44 367.74 L390.29 391.19 L392.14 418.39 L393.99 450.30"/>
<path d="M436.66 450.30 L436.82 447.39 L436.98 444.52 L437.13 441.69 L437.29 438.90 L437.44 436.15 L437.60 433.44 L437.76 430.76 L437.91 428.13 L438.07 425.53 L438.23 422.96 L438.38 420.43 L438.54 417.94 L438.70 415.48 L438.85 413.05 L439.01 410.65 L439.17 408.28 L439.32 405.95 L439.48 403.65 L439.64 401.37 L439.79 399.12 L439.95 396.91 L440.10 394.72 L440.26 392.56 L440.42 390.42 L440.57 388.31 L440.73 386.23 L440.89 384.17 L441.04 382.14 L441.20 380.13 L441.36 378.15 L441.51 376.19 L441.67 374.26 L441.83 372.34 L441.98 370.45 L442.14 368.58 L442.30 366.73 L442.45 364.91 L442.61 363.10 L442.77 361.32 L442.92 359.56 L443.08 357.81 L443.23 356.09 L443.39 354.38 L443.55 352.69 L443.70 351.03 L443.86 349.38 L444.02 347.75 L444.17 346.13 L444.33 344.54 L444.49 342.96 L444.64 341.39 L444.80 339.85 L444.96 338.32 L445.11 336.80 L445.27 335.31 L445.43 333.82 L445.58 332.36 L445.74 330.91 L445.89 329.47 L446.05 328.05 L446.21 326.64 L446.36 325.25 L446.52 323.87 L446.68 322.50 L446.83 321.15 L446.99 319.81 L447.15 318.48 L447.30 317.17 L447.46 315.87 L447.62 314.58 L447.77 313.31 L447.93 312.05 L448.09 310.79 L448.24 309.56 L448.40 308.33 L448.55 307.11 L448.71 305.91 L448.87 304.72 L449.02 303.53 L449.18 302.36 L449.34 301.20 L449.49 300.05 L449.65 298.92 L449.81 297.79 L449.96 296.67 L450.12 295.56 L450.28 294.46 L450.43 293.37 L450.59 292.29 L450.75 291.22 L450.90 290.16 L451.06 289.11 L451.21 288.07 L451.37 287.04 L451.53 286.02 L451.68 285.00 L451.84 283.99 L452.00 283.00 L452.15 282.01 L452.31 281.03 L452.47 280.05 L452.62 279.09 L452.78 278.13 L452.94 277.19 L453.09 276.25 L453.25 275.31 L453.41 274.39 L453.56 273.47 L453.72 272.56 L453.87 271.66 L454.03 270.76 L454.19 269.87 L454.34 268.99 L454.50 268.12 L454.66 267.25 L454.81 266.39 L454.97 265.54 L455.13 264.69 L455.28 263.85 L455.44 263.02 L455.60 262.19 L455.75 261.37 L455.91 260.56 L456.07 259.75 L456.22 258.95 L456.38 258.15 L456.53 257.36 L456.69 256.58 L456.85 255.80 L457.00 255.03 L457.16 254.26 L457.32 253.50 L457.47 252.75 L457.63 252.00 L457.79 251.26 L457.94 250.52 L458.10 249.78 L458.26 249.06 L458.41 248.33 L458.57 247.62 L458.73 246.91 L458.88 246.20 L459.04 245.50 L459.19 244.80 L459.35 244.11 L459.51 243.42 L459.66 242.74 L459.82 242.06 L459.98 241.39 L460.13 240.72"/>
<path d="M460.13 240.72 L461.81 233.87 L463.48 227.49 L465.15 221.53 L466.83 215.97 L468.50 210.75 L470.17 205.86 L471.84 201.25 L473.52 196.91 L475.19 192.81 L476.86 188.93 L478.54 185.26 L480.21 181.78 L481.88 178.47 L483.55 175.33 L485.23 172.33 L486.90 169.48 L488.57 166.75 L490.25 164.15 L491.92 161.66 L493.59 159.28 L495.26 157.00 L496.94 154.81 L498.61 152.71 L500.28 150.69 L501.96 148.75 L503.63 146.88 L505.30 145.08 L506.97 143.35 L508.65 141.68 L510.32 140.07 L511.99 138.51 L513.67 137.01 L515.34 135.56 L517.01 134.16 L518.68 132.80 L520.36 131.48 L522.03 130.21 L523.70 128.97 L525.38 127.77 L527.05 126.61 L528.72 125.49 L530.39 124.39 L532.07 123.33 L533.74 122.30 L535.41 121.29 L537.09 120.31 L538.76 119.36 L540.43 118.44 L542.10 117.54 L543.78 116.66 L545.45 115.81 L547.12 114.97 L548.80 114.16 L550.47 113.37 L552.14 112.60 L553.81 111.84 L555.49 111.11 L557.16 110.39 L558.83 109.69 L560.51 109.00 L562.18 108.33 L563.85 107.68 L565.52 107.04 L567.20 106.41 L568.87 105.80 L570.54 105.20 L572.22 104.61 L573.89 104.04 L575.56 103.48 L577.23 102.93 L578.91 102.39 L580.58 101.86 L582.25 101.34 L583.93 100.84 L585.60 100.34 L587.27 99.85 L588.94 99.37 L590.62 98.90 L592.29 98.44 L593.96 97.99 L595.64 97.55 L597.31 97.11 L598.98 96.68 L600.65 96.26 L602.33 95.85 L604.00 95.45 L605.67 95.05 L607.35 94.66 L609.02 94.28 L610.69 93.90 L612.36 93.53 L614.04 93.16 L615.71 92.80 L617.38 92.45 L619.06 92.10 L620.73 91.76 L622.40 91.43 L624.07 91.10 L625.75 90.77 L627.42 90.45 L629.09 90.14 L630.77 89.83 L632.44 89.52 L634.11 89.22 L635.78 88.92 L637.46 88.63 L639.13 88.35 L640.80 88.06 L642.48 87.78 L644.15 87.51 L645.82 87.24 L647.49 86.97 L649.17 86.71 L650.84 86.45 L652.51 86.19 L654.19 85.94 L655.86 85.69 L657.53 85.45 L659.20 85.21 L660.88 84.97 L662.55 84.73 L664.22 84.50 L665.90 84.27 L667.57 84.04 L669.24 83.82 L670.91 83.60 L672.59 83.38 L674.26 83.17 L675.93 82.96 L677.61 82.75 L679.28 82.54 L680.95 82.34 L682.62 82.14 L684.30 81.94 L685.97 81.74 L687.64 81.55 L689.32 81.36 L690.99 81.17 L692.66 80.98 L694.33 80.80 L696.01 80.62 L697.68 80.44 L699.35 80.26 L701.03 80.08 L702.70 79.91 L704.37 79.74 L706.04 79.57 L707.72 79.40 L709.39 79.23 L711.06 79.07"/>
</g>
</svg>
</body></html>
